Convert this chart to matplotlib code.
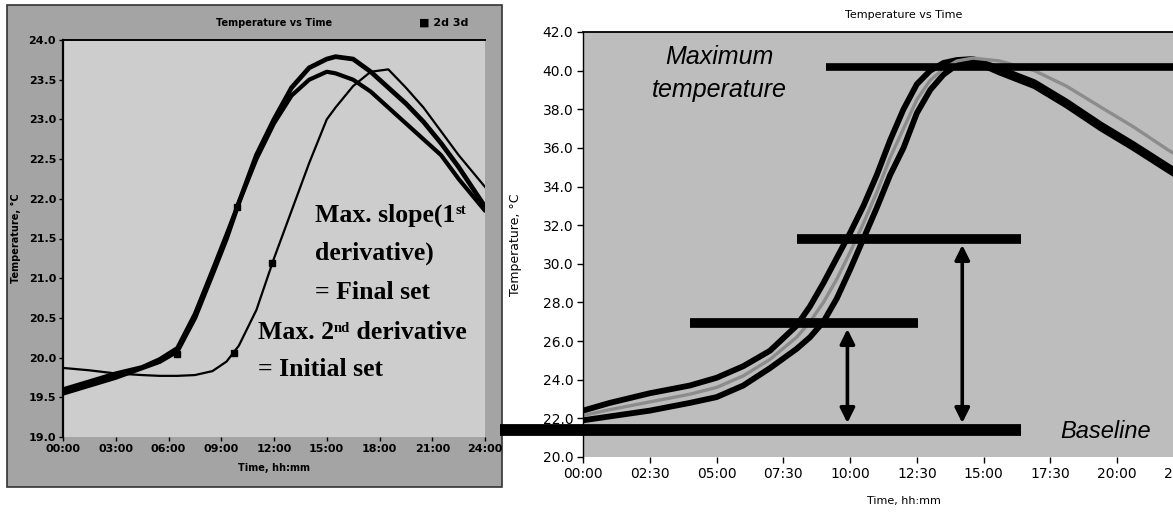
import matplotlib
matplotlib.use("Agg")
import matplotlib.pyplot as plt
from matplotlib.patches import Rectangle

# ---- left panel: three temperature curves (hours, deg C)
left_hours = [0, 1.5, 3, 4.5, 5.5, 6.5, 7.5, 8.5, 9.3, 10, 11, 12, 13, 14, 15,
              15.5, 16.5, 17.5, 18.5, 19.5, 20.5, 21.5, 22.5, 24]
left_p = [19.55, 19.65, 19.75, 19.87, 19.95, 20.08, 20.5, 21.05, 21.5, 21.95, 22.55, 23.0,
          23.4, 23.65, 23.76, 23.79, 23.76, 23.6, 23.4, 23.2, 22.97, 22.7, 22.4, 21.9]
left_q = [19.6, 19.7, 19.8, 19.88, 19.98, 20.12, 20.55, 21.1, 21.55, 21.95, 22.5, 22.95,
          23.3, 23.5, 23.6, 23.58, 23.5, 23.35, 23.15, 22.95, 22.75, 22.55, 22.25, 21.85]
left_r = [19.87, 19.84, 19.8, 19.78, 19.77, 19.77, 19.78, 19.83, 19.95, 20.15, 20.6, 21.25,
          21.85, 22.45, 23.0, 23.15, 23.42, 23.6, 23.63, 23.4, 23.15, 22.85, 22.55, 22.15]
thick_mark_t = [6.5, 9.9]
thick_mark_T = [20.05, 21.9]
thin_mark_t = [9.7, 11.9]
thin_mark_T = [20.06, 21.19]
left_xticks = [0, 3, 6, 9, 12, 15, 18, 21, 24]
left_xlabels = ["00:00", "03:00", "06:00", "09:00", "12:00", "15:00", "18:00", "21:00", "24:00"]
left_yticks = [19.0, 19.5, 20.0, 20.5, 21.0, 21.5, 22.0, 22.5, 23.0, 23.5, 24.0]

# ---- right panel curves
right_hours = [0, 1, 2.5, 4, 5, 6, 7, 8, 8.5, 9, 9.5, 10, 10.5, 11, 11.5, 12, 12.5, 13,
               13.5, 14, 14.6, 15.6, 16.9, 18.1, 19.4, 20.6, 21.9, 23]
right_a = [22.4, 22.8, 23.3, 23.7, 24.1, 24.7, 25.5, 26.8, 27.8, 29.0, 30.3, 31.6, 33.0, 34.6,
           36.4, 38.0, 39.3, 40.0, 40.4, 40.55, 40.6, 40.1, 39.4, 38.4, 37.2, 36.2, 35.05, 34.1]
right_b = [21.9, 22.1, 22.4, 22.8, 23.1, 23.7, 24.6, 25.6, 26.2, 27.0, 28.2, 29.7, 31.3, 32.9,
           34.6, 36.0, 37.8, 39.0, 39.8, 40.3, 40.5, 39.9, 39.2, 38.2, 37.0, 36.0, 34.85, 33.9]
right_c = [22.15, 22.45, 22.85, 23.25, 23.6, 24.2, 25.05, 26.2, 27.0, 28.0, 29.2, 30.6, 32.1,
           33.7, 35.5, 37.0, 38.5, 39.5, 40.1, 40.5, 40.65, 40.5, 40.0, 39.2, 38.1, 37.1, 35.9, 35.0]
right_xticks = [0, 2.5, 5, 7.5, 10, 12.5, 15, 17.5, 20, 22.5]
right_xlabels = ["00:00", "02:30", "05:00", "07:30", "10:00", "12:30", "15:00", "17:30", "20:00", "22:30"]
right_yticks = [20, 22, 24, 26, 28, 30, 32, 34, 36, 38, 40, 42]

# reference levels (deg C) and their horizontal extent (hours)
max_level, max_span = 40.2, (9.1, 24.0)
hi_level, hi_span = 31.3, (8.0, 16.4)
lo_level, lo_span = 26.95, (4.0, 12.55)
base_level, base_span = 21.4, (-3.1, 16.4)
arrow_hours = [9.9, 14.2]
arrow_tops = [lo_level, hi_level]

W, H = 1173, 513
fig = plt.figure(figsize=(W / 100, H / 100), dpi=100)
fig.patch.set_facecolor("white")

# grey window of the left screenshot (behind the axes)
fig.patches.append(Rectangle((7 / W, 1 - 487 / H), 495 / W, 482 / H, transform=fig.transFigure,
                             facecolor="#a4a4a4", edgecolor="#333333", lw=1.2, zorder=-5))

# ================= left panel =================
ax1 = fig.add_axes([63 / W, 1 - 437 / H, 422 / W, 397 / H])
ax1.set_facecolor("#cdcdcd")
ax1.plot(left_hours, left_p, color="black", lw=3.4, solid_capstyle="round", solid_joinstyle="round")
ax1.plot(left_hours, left_q, color="black", lw=3.0, solid_capstyle="round", solid_joinstyle="round")
ax1.plot(left_hours, left_r, color="black", lw=1.6, solid_joinstyle="round")
ax1.plot(thick_mark_t, thick_mark_T, "s", color="black", ms=5, ls="none")
ax1.plot(thin_mark_t, thin_mark_T, "s", color="black", ms=5, ls="none")
ax1.set_xlim(0, 24)
ax1.set_ylim(19, 24)
ax1.set_xticks(left_xticks)
ax1.set_xticklabels(left_xlabels)
ax1.set_yticks(left_yticks)
ax1.set_yticklabels([f"{v:.1f}" for v in left_yticks])
ax1.tick_params(labelsize=8, length=3, width=1, pad=2)
for lab in ax1.get_xticklabels() + ax1.get_yticklabels():
    lab.set_fontweight("bold")
for s in ["right", "bottom"]:
    ax1.spines[s].set_visible(False)
ax1.spines["left"].set_linewidth(1.6)
ax1.spines["top"].set_linewidth(1.4)
ax1.set_xlabel("Time, hh:mm", fontsize=7, fontweight="bold")
ax1.xaxis.set_label_coords(0.5, -0.065)
ax1.set_ylabel("Temperature, °C", fontsize=7, fontweight="bold")
ax1.yaxis.set_label_coords(-0.1, 0.5)
ax1.text(0.5, 1.043, "Temperature vs Time", transform=ax1.transAxes, ha="center", va="center",
         fontsize=7, fontweight="bold")
ax1.text(0.96, 1.043, "■ 2d 3d", transform=ax1.transAxes, ha="right", va="center",
         fontsize=8, fontweight="bold")

serif = dict(family="Liberation Serif", fontweight="bold", color="black")
fs = 18.5
sup = 10.5
t1 = ax1.text(0.597, 0.559, "Max. slope(1", transform=ax1.transAxes, va="center", fontsize=fs, **serif)
ax1.annotate("st", xy=(1, 0.97), xycoords=t1, va="top", ha="left", fontsize=sup, **serif)
ax1.text(0.597, 0.463, "derivative)", transform=ax1.transAxes, va="center", fontsize=fs, **serif)
ax1.text(0.597, 0.365, "= Final set", transform=ax1.transAxes, va="center", fontsize=fs, **serif)
t4 = ax1.text(0.462, 0.262, "Max. 2", transform=ax1.transAxes, va="center", fontsize=fs, **serif)
nd = ax1.annotate("nd", xy=(1, 0.97), xycoords=t4, va="top", ha="left", fontsize=sup, **serif)
ax1.annotate(" derivative", xy=(1, 0), xycoords=(nd, t4), va="bottom", ha="left", fontsize=fs, **serif)
ax1.text(0.462, 0.169, "= Initial set", transform=ax1.transAxes, va="center", fontsize=fs, **serif)

# ================= right panel =================
ax2 = fig.add_axes([583 / W, 1 - 457 / H, 641 / W, 425 / H])
ax2.set_facecolor("#bdbdbd")
ax2.plot(right_hours, right_a, color="black", lw=4.2, solid_capstyle="round", solid_joinstyle="round")
ax2.plot(right_hours, right_b, color="black", lw=4.2, solid_capstyle="round", solid_joinstyle="round")
ax2.plot(right_hours, right_c, color="#8c8c8c", lw=2.4, solid_joinstyle="round")

ax2.plot(max_span, [max_level] * 2, color="black", lw=5.5, solid_capstyle="butt", clip_on=False)
ax2.plot(hi_span, [hi_level] * 2, color="black", lw=7, solid_capstyle="butt")
ax2.plot(lo_span, [lo_level] * 2, color="black", lw=7, solid_capstyle="butt")
ax2.plot(base_span, [base_level] * 2, color="black", lw=8.5, solid_capstyle="butt", clip_on=False)
for t, top in zip(arrow_hours, arrow_tops):
    ax2.annotate("", xy=(t, top), xytext=(t, base_level),
                 arrowprops=dict(arrowstyle="<|-|>", color="black", lw=2.6,
                                 mutation_scale=22, shrinkA=5, shrinkB=4.5))

ax2.set_xlim(0, 24)
ax2.set_ylim(20, 42)
ax2.set_xticks(right_xticks)
ax2.set_xticklabels(right_xlabels)
ax2.set_yticks(right_yticks)
ax2.set_yticklabels([f"{v:.1f}" for v in right_yticks])
ax2.tick_params(labelsize=10, length=4, width=1, pad=3)
for s in ["right", "bottom"]:
    ax2.spines[s].set_visible(False)
ax2.spines["left"].set_linewidth(1.0)
ax2.spines["top"].set_linewidth(1.3)
ax2.set_title("Temperature vs Time", fontsize=8, pad=10)
ax2.set_xlabel("Time, hh:mm", fontsize=8)
ax2.xaxis.set_label_coords(0.5, -0.092)
ax2.set_ylabel("Temperature, °C", fontsize=9)
ax2.yaxis.set_label_coords(-0.095, 0.5)

sans = dict(family="Liberation Sans", style="italic", color="black")
ax2.text(5.1, 40.7, "Maximum", ha="center", va="center", fontsize=18, **sans)
ax2.text(5.1, 39.0, "temperature", ha="center", va="center", fontsize=18, **sans)
ax2.text(19.55, 21.3, "Baseline", ha="center", va="center", fontsize=17, **sans)

fig.savefig("out.png", dpi=100)
